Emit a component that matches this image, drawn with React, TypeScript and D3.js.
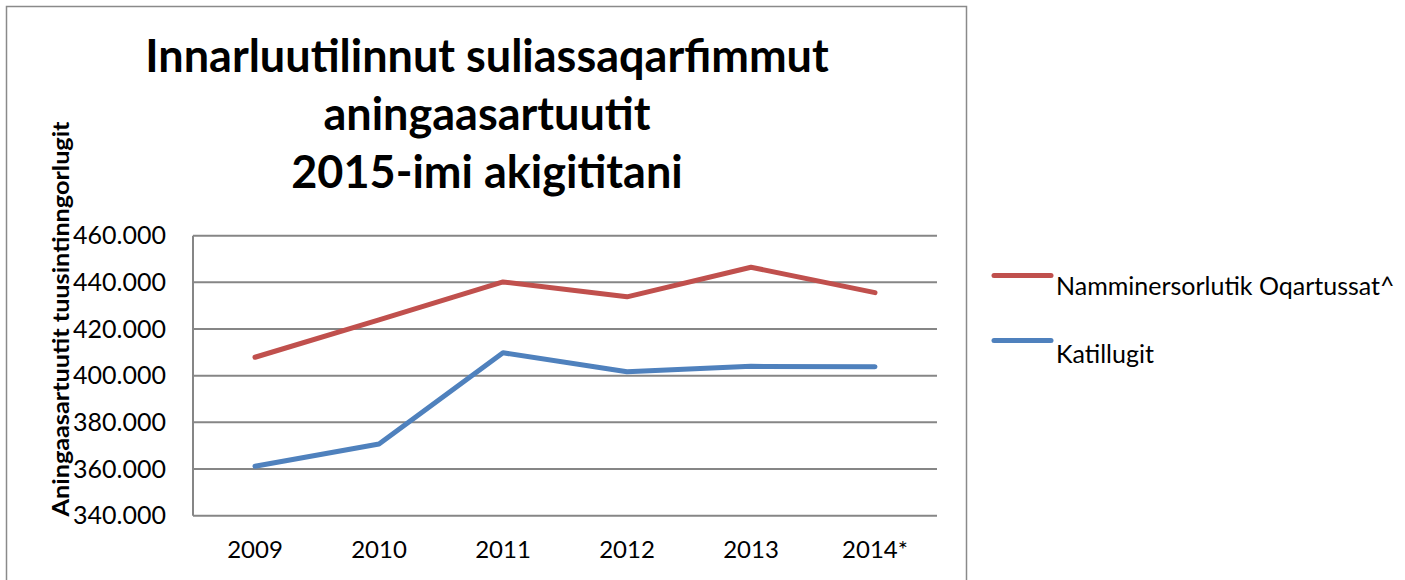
import React, { useEffect } from 'react';
import * as d3 from 'd3';

// years on the x axis (last one is provisional)
const years = ['2009', '2010', '2011', '2012', '2013', '2014*'];
// Namminersorlutik Oqartussat^ (kr)
const selvstyre = [407900, 423900, 440200, 433800, 446500, 435600];
// Katillugit
const katillugit = [361200, 370700, 409800, 401700, 404000, 403800];
const yTicks = [340000, 360000, 380000, 400000, 420000, 440000, 460000];
const seriesNames = ['Namminersorlutik Oqartussat^', 'Katillugit'];
const titleLines = ['Innarluutilinnut suliassaqarfimmut', 'aningaasartuutit', '2015-imi akigititani'];
const yTitle = 'Aningaasartuutit tuusintinngorlugit';

const W = 1405, H = 580;
const plot = { left: 193, right: 937, top: 235.7, bottom: 515.7 };
const colors = ['#C0504D', '#4F81BD'];
const FONT = 'Lato, "Open Sans", sans-serif';

const fmt = (v: number) => d3.format(',.3f')(v / 1000).replace(/,/g, ' ');

export default function App() {
  useEffect(() => {
    document.body.style.margin = '0';
  }, []);

  const x = d3.scaleBand<string>().domain(years).range([plot.left, plot.right]);
  const y = d3.scaleLinear().domain([340000, 460000]).range([plot.bottom, plot.top]);
  const cx = (d: string) => (x(d) ?? 0) + x.bandwidth() / 2;

  const line = d3.line<number>()
    .x((_, i) => cx(years[i]))
    .y(v => y(v));

  const series = [selvstyre, katillugit];

  return (
    <svg width={W} height={H} style={{ display: 'block', background: '#fff' }} fontFamily={FONT}>
      <rect x={6.5} y={6.5} width={960} height={600} fill="#fff" stroke="#8a8a8a" strokeWidth={1.5} />

      {titleLines.map((t, i) => (
        <text key={t} x={487} y={72 + i * 58} textAnchor="middle" fontSize={45} fontWeight="bold" fill="#000">{t}</text>
      ))}

      <text transform={`translate(69,${319}) rotate(-90)`} textAnchor="middle" fontSize={23} fontWeight="bold"
        textLength={395} lengthAdjust="spacingAndGlyphs">{yTitle}</text>

      {yTicks.map(t => (
        <g key={t}>
          <line x1={plot.left} x2={plot.right} y1={y(t)} y2={y(t)} stroke="#868686" strokeWidth={2} />
          <text x={166} y={y(t)} dy="0.35em" textAnchor="end" fontSize={25} fill="#000">{fmt(t).replace(' ', '.')}</text>
        </g>
      ))}
      <line x1={plot.left} x2={plot.left} y1={plot.top} y2={plot.bottom} stroke="#868686" strokeWidth={2} />

      {years.map(d => (
        <text key={d} x={cx(d)} y={558} textAnchor="middle" fontSize={24}>{d}</text>
      ))}

      {series.map((s, i) => (
        <path key={i} d={line(s) ?? ''} fill="none" stroke={colors[i]} strokeWidth={5} strokeLinecap="round" strokeLinejoin="round" />
      ))}

      {seriesNames.map((n, i) => (
        <g key={n}>
          <line x1={994} x2={1051} y1={275.5 + i * 65} y2={275.5 + i * 65} stroke={colors[i]} strokeWidth={5} strokeLinecap="round" />
          <text x={1056} y={295 + i * 68} fontSize={25}>{n}</text>
        </g>
      ))}
    </svg>
  );
}
